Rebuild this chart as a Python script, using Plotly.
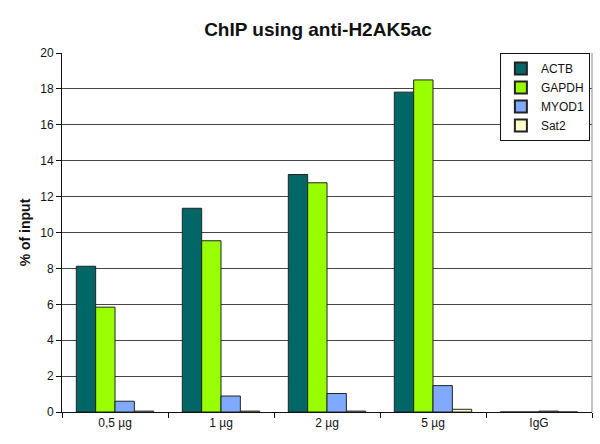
import plotly.graph_objects as go

categories = ["0,5 µg", "1 µg", "2 µg", "5 µg", "IgG"]
actb = [8.12, 11.35, 13.23, 17.82, 0.0]
gapdh = [5.84, 9.54, 12.77, 18.5, 0.0]
myod1 = [0.6, 0.89, 1.03, 1.47, 0.05]
sat2 = [0.05, 0.05, 0.05, 0.15, 0.0]

series = [
    ("ACTB", actb, "#006666"),
    ("GAPDH", gapdh, "#99FF00"),
    ("MYOD1", myod1, "#80AAFF"),
    ("Sat2", sat2, "#FFFFCC"),
]

font_family = "Arial, Liberation Sans, sans-serif"

fig = go.Figure()
for name, vals, color in series:
    fig.add_trace(go.Bar(
        name=name, x=categories, y=vals, legendgroup=name,
        marker=dict(color=color, line=dict(color="#222222", width=1)),
    ))

fig.update_layout(
    width=600, height=444,
    margin=dict(l=62, r=8, t=53, b=32),
    paper_bgcolor="white", plot_bgcolor="white",
    barmode="group", bargap=0.27, bargroupgap=0,
    font=dict(family=font_family, size=12, color="#111111"),
    title=dict(text="<b>ChIP using anti-H2AK5ac</b>", x=0.53, xanchor="center",
               y=0.935, yanchor="middle",
               font=dict(family=font_family, size=19, color="#111111")),
    showlegend=True,
    legend=dict(x=0.996, xanchor="right", y=1.0, yanchor="top",
                bgcolor="white", bordercolor="#111111", borderwidth=1,
                font=dict(family=font_family, size=12, color="#111111"),
                tracegroupgap=2, itemsizing="constant", traceorder="normal"),
    xaxis=dict(showgrid=False, showline=True, linecolor="#111111", linewidth=1,
               ticks="outside", tickson="boundaries", ticklen=5, tickcolor="#111111",
               tickfont=dict(size=12), zeroline=False),
    yaxis=dict(range=[0, 20], dtick=2, showgrid=True, gridcolor="#444444", gridwidth=1,
               showline=True, linecolor="#111111", linewidth=1,
               ticks="outside", ticklen=5, tickcolor="#111111",
               tickfont=dict(size=12), zeroline=False,
               title=dict(text="<b>% of input</b>", font=dict(size=14), standoff=6)),
    shapes=[dict(type="line", xref="paper", yref="paper", x0=1, x1=1, y0=0, y1=1,
                 line=dict(color="#888888", width=1))],
)

fig.write_html("out.html")
